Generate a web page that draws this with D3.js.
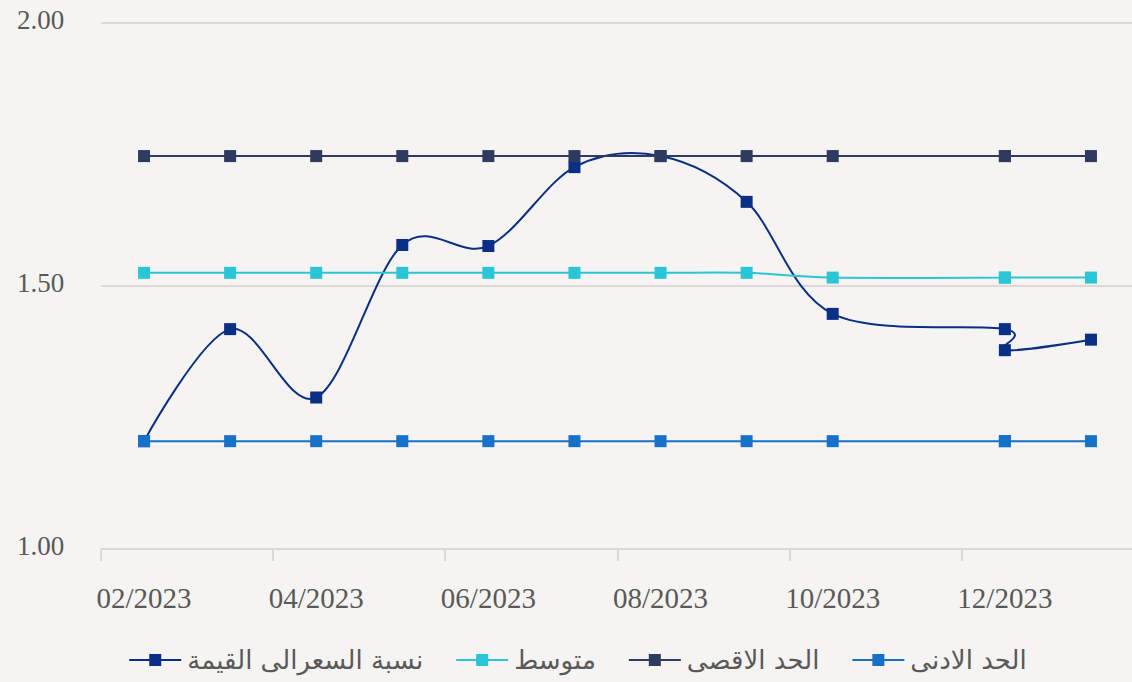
<!DOCTYPE html>
<html>
<head>
<meta charset="utf-8">
<script src="https://cdn.jsdelivr.net/npm/d3@7"></script>
<style>
  html, body { margin: 0; padding: 0; background: #f5f4f2; }
  svg { display: block; }
</style>
</head>
<body>
<svg id="chart" width="1132" height="682"></svg>
<script>
// ---- data ----
const months = ["02/2023","03/2023","04/2023","05/2023","06/2023","07/2023","08/2023","09/2023","10/2023","11/2023","12/2023","01/2024"];
const tickLabels = ["02/2023","04/2023","06/2023","08/2023","10/2023","12/2023"];
const periods = ["02/2023","03/2023","04/2023","05/2023","06/2023","07/2023","08/2023","09/2023","10/2023","12/2023","12/2023","01/2024"];
const priceToValue = [1.205,1.418,1.288,1.578,1.576,1.726,1.747,1.660,1.447,1.418,1.378,1.398];
const average      = [1.525,1.525,1.525,1.525,1.525,1.525,1.525,1.525,1.516,1.516,1.516,1.516];
const maxLimit     = [1.747,1.747,1.747,1.747,1.747,1.747,1.747,1.747,1.747,1.747,1.747,1.747];
const minLimit     = [1.205,1.205,1.205,1.205,1.205,1.205,1.205,1.205,1.205,1.205,1.205,1.205];
const yTicks = [1.00, 1.50, 2.00];
const seriesNames = ["نسبة السعرالى القيمة", "متوسط", "الحد الاقصى", "الحد الادنى"];
const seriesColors = ["#0b2f84", "#2ac5d6", "#2f3b5e", "#1771c9"];

(function () {
// ---- layout ----
const svg = d3.select("#chart");
const pLeft = 101, pRight = 1134, pTop = 23, pBottom = 549;
const x = d3.scaleBand().domain(months).range([pLeft, pRight]).padding(0);
const y = d3.scaleLinear().domain([1, 2]).range([pBottom, pTop]);
const cx = p => x(p) + x.bandwidth() / 2;

const gridColor = "#dad9d6", textColor = "#595959";

// gridlines
svg.append("g").selectAll("line").data(yTicks.filter(t => t > 1)).join("line")
  .attr("x1", pLeft).attr("x2", 1132)
  .attr("y1", d => y(d)).attr("y2", d => y(d))
  .attr("stroke", gridColor).attr("stroke-width", 2);

// y labels
svg.append("g").selectAll("text").data(yTicks).join("text")
  .attr("x", 17).attr("y", d => y(d) + 6)
  .attr("font-family", "'Liberation Serif', 'DejaVu Serif', serif")
  .attr("font-size", 27).attr("fill", textColor)
  .text(d => d.toFixed(2));

// x axis line
svg.append("line").attr("x1", pLeft).attr("x2", 1132).attr("y1", pBottom).attr("y2", pBottom)
  .attr("stroke", gridColor).attr("stroke-width", 2);
// ticks at boundaries of labelled categories
svg.append("g").selectAll("line").data(tickLabels).join("line")
  .attr("x1", d => Math.round(x(d))).attr("x2", d => Math.round(x(d)))
  .attr("y1", pBottom).attr("y2", pBottom + 12)
  .attr("stroke", gridColor).attr("stroke-width", 2);
svg.append("g").selectAll("text").data(tickLabels).join("text")
  .attr("x", d => cx(d)).attr("y", 608)
  .attr("text-anchor", "middle")
  .attr("font-family", "'Liberation Serif', 'DejaVu Serif', serif")
  .attr("font-size", 29).attr("fill", textColor)
  .text(d => d);

// series
const allSeries = [priceToValue, average, maxLimit, minLimit];
const line = d3.line().x(d => d[0]).y(d => d[1]).curve(d3.curveCardinal.tension(0));
[0, 1, 2, 3].forEach(i => {
  const pts = periods.map((p, j) => [cx(p), y(allSeries[i][j])]);
  const g = svg.append("g");
  g.append("path").attr("d", line(pts)).attr("fill", "none")
    .attr("stroke", seriesColors[i]).attr("stroke-width", 2);
  g.selectAll("rect").data(pts).join("rect")
    .attr("x", d => d[0] - 6).attr("y", d => d[1] - 6)
    .attr("width", 12).attr("height", 12)
    .attr("fill", seriesColors[i]);
});

// legend
const lg = svg.append("g");
const legendY = 660;
const items = [];
seriesNames.forEach((name, i) => {
  const g = lg.append("g");
  g.append("line").attr("x1", 0).attr("x2", 52).attr("y1", 0).attr("y2", 0)
    .attr("stroke", seriesColors[i]).attr("stroke-width", 2);
  g.append("rect").attr("x", 20).attr("y", -6).attr("width", 12).attr("height", 12)
    .attr("fill", seriesColors[i]);
  const t = g.append("text").attr("x", 58).attr("y", 9)
    .attr("font-family", "'DejaVu Sans', 'Noto Sans', sans-serif")
    .attr("font-size", 26).attr("fill", textColor)
    .text(name);
  const w = 58 + t.node().getComputedTextLength();
  items.push({g, w});
});
const gap = 33;
const total = d3.sum(items, d => d.w) + gap * (items.length - 1);
let start = 578 - total / 2;
items.forEach(it => {
  it.g.attr("transform", `translate(${start},${legendY})`);
  start += it.w + gap;
});
})();
</script>
</body>
</html>
